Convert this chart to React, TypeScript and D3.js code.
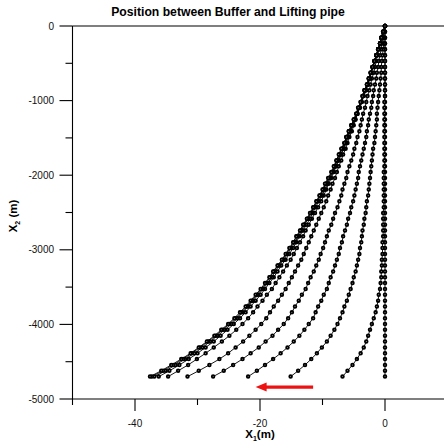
import React from "react";
import * as d3 from "d3";

// Node depths along the lifting pipe (m), shared by every snapshot
const X2 = [0,-78.3,-156.7,-235,-313.3,-391.7,-470,-548.3,-626.7,-705,-783.3,-861.7,-940,-1018.3,-1096.7,-1175,-1253.3,-1331.7,-1410,-1488.3,-1566.7,-1645,-1723.3,-1801.7,-1880,-1958.3,-2036.7,-2115,-2193.3,-2271.7,-2350,-2428.3,-2506.7,-2585,-2663.3,-2741.7,-2820,-2898.3,-2976.7,-3055,-3133.3,-3211.7,-3290,-3368.3,-3446.7,-3525,-3603.3,-3681.7,-3760,-3838.3,-3916.7,-3995,-4073.3,-4151.7,-4230,-4308.3,-4386.7,-4465,-4543.3,-4621.7,-4700];

// Horizontal position X1 (m) of each node, one array per time snapshot
const x1_t0 = [0,0,0,0,0,0,0,0,0,0,0, 0,0,0,0,0,0,0,0,0,0, 0,0,0,0,0,0,0,0,0,0, 0,0,0,0,0,0,0,0,0,0, 0,0,0,0,0, 0,0,0,0,0, 0,0,0,0,0, 0,0,0,0,0];
const x1_t1 = [0,0,0,0,0,0,0,0,0,0,0, 0,0,-0.1,-0.1,-0.1,-0.1,-0.1,-0.1,-0.1,-0.1, -0.1,-0.1,-0.1,-0.1,-0.2,-0.2,-0.2,-0.2,-0.2,-0.2, -0.2,-0.3,-0.3,-0.3,-0.3,-0.3,-0.4,-0.4,-0.4,-0.5, -0.5,-0.6,-0.6,-0.7,-0.8, -1.0,-1.1,-1.3,-1.5,-1.8, -2.1,-2.4,-2.7,-3.0,-3.4, -3.9,-4.5,-5.2,-6.0,-6.8];
const x1_t2 = [0,-0.1,-0.2,-0.2,-0.3,-0.4,-0.5,-0.6,-0.6,-0.7,-0.8, -0.9,-1.0,-1.1,-1.2,-1.3,-1.3,-1.4,-1.5,-1.6,-1.7, -1.9,-2.0,-2.1,-2.2,-2.3,-2.4,-2.5,-2.6,-2.7,-2.9, -3.0,-3.1,-3.3,-3.4,-3.6,-3.7,-3.8,-4.0,-4.1,-4.3, -4.5,-4.7,-5.0,-5.2,-5.5,-5.8,-6.1,-6.5,-6.8,-7.2, -7.6,-8.1,-8.7,-9.3,-10.1,-10.9,-11.8,-12.8,-13.9,-15.1];
const x1_t3 = [0,-0.2,-0.3,-0.5,-0.6,-0.8,-1.0,-1.1,-1.3,-1.4,-1.6, -1.8,-1.9,-2.1,-2.2,-2.4,-2.6,-2.7,-2.9,-3.0,-3.2, -3.4,-3.6,-3.8,-4.0,-4.2,-4.3,-4.5,-4.7,-4.9,-5.1, -5.4,-5.6,-5.9,-6.1,-6.4,-6.7,-6.9,-7.2,-7.4,-7.7, -8.0,-8.3,-8.7,-9.0,-9.3, -9.8,-10.2,-10.7,-11.1,-11.5, -12.2,-12.9,-13.7,-14.6,-15.6, -16.7,-17.9,-19.2,-20.5,-21.9];
const x1_t4 = [0,-0.2,-0.5,-0.7,-0.9,-1.2,-1.4,-1.6,-1.8,-2.1,-2.3, -2.5,-2.8,-3.0,-3.2,-3.5,-3.7,-3.9,-4.1,-4.4,-4.6, -4.9,-5.1,-5.4,-5.7,-6.0,-6.2,-6.5,-6.8,-7.0,-7.3, -7.6,-8.0,-8.3,-8.6,-9.0,-9.3,-9.6,-9.9,-10.3,-10.6, -11.0,-11.4,-11.9,-12.3,-12.7, -13.3,-13.8,-14.4,-14.9,-15.5, -16.2,-17.1,-18.0,-19.1,-20.2, -21.5,-22.8,-24.3,-25.8,-27.5];
const x1_t5 = [0,-0.3,-0.5,-0.8,-1.1,-1.4,-1.6,-1.9,-2.2,-2.4,-2.7, -3.0,-3.4,-3.7,-4.0,-4.4,-4.7,-5.0,-5.3,-5.7,-6.0, -6.3,-6.7,-7.0,-7.4,-7.7,-8.0,-8.4,-8.7,-9.1,-9.4, -9.8,-10.2,-10.6,-11.0,-11.4,-11.8,-12.2,-12.6,-13.0,-13.4, -13.9,-14.4,-14.9,-15.4,-15.9, -16.5,-17.1,-17.8,-18.4,-19.0, -19.8,-20.7,-21.7,-22.7,-23.9, -25.1,-26.5,-28.1,-29.8,-31.6];
const x1_t6 = [0,-0.3,-0.6,-0.8,-1.1,-1.4,-1.7,-2.0,-2.2,-2.5,-2.8, -3.1,-3.5,-3.8,-4.2,-4.5,-4.8,-5.2,-5.5,-5.9,-6.2, -6.6,-7.0,-7.4,-7.8,-8.2,-8.6,-9.0,-9.4,-9.8,-10.2, -10.7,-11.2,-11.7,-12.2,-12.7,-13.1,-13.6,-14.1,-14.6,-15.1, -15.7,-16.3,-16.9,-17.5,-18.1, -18.9,-19.6,-20.4,-21.1,-21.9, -22.8,-23.8,-24.9,-26.1,-27.4, -28.7,-30.1,-31.5,-33.1,-34.7];
const x1_t7 = [0,-0.3,-0.6,-0.8,-1.1,-1.3,-1.6,-1.9,-2.2,-2.5,-2.8, -3.2,-3.5,-3.8,-4.1,-4.4,-4.8,-5.2,-5.6,-6.0,-6.3, -6.7,-7.1,-7.5,-7.9,-8.3,-8.8,-9.2,-9.6,-10.1,-10.6, -11.1,-11.6,-12.0,-12.6,-13.1,-13.7,-14.2,-14.7,-15.3,-15.9, -16.6,-17.2,-17.8,-18.5,-19.2, -19.9,-20.7,-21.5,-22.3,-23.2, -24.2,-25.2,-26.3,-27.4,-28.7, -30.0,-31.4,-32.9,-34.5,-36.2];
const x1_t8 = [0,-0.3,-0.6,-0.8,-1.1,-1.4,-1.7,-2.0,-2.3,-2.6,-2.8, -3.2,-3.5,-3.8,-4.2,-4.5,-4.9,-5.3,-5.7,-6.1,-6.4, -6.9,-7.3,-7.7,-8.0,-8.4,-8.9,-9.4,-9.8,-10.3,-10.8, -11.3,-11.8,-12.3,-12.9,-13.3,-13.9,-14.4,-15.0,-15.6,-16.2, -16.9,-17.6,-18.1,-18.8,-19.5, -20.3,-21.1,-21.9,-22.8,-23.6, -24.6,-25.7,-26.8,-28.0,-29.2, -30.5,-32.0,-33.5,-35.1,-36.9];
const x1_t9 = [0,-0.3,-0.6,-0.8,-1.1,-1.4,-1.7,-2.0,-2.3,-2.6,-2.9, -3.3,-3.6,-3.9,-4.3,-4.6,-5.0,-5.4,-5.8,-6.2,-6.5, -6.9,-7.3,-7.7,-8.1,-8.5,-9.0,-9.5,-9.9,-10.4,-10.9, -11.4,-11.9,-12.4,-13.0,-13.5,-14.1,-14.6,-15.2,-15.8,-16.4, -17.1,-17.8,-18.4,-19.0,-19.7, -20.5,-21.3,-22.1,-23.0,-23.9, -24.9,-26.0,-27.1,-28.3,-29.6, -30.9,-32.3,-33.9,-35.5,-37.3];
const x1_t10 = [0,-0.3,-0.6,-0.8,-1.1,-1.4,-1.7,-2.0,-2.3,-2.6,-2.9, -3.3,-3.6,-3.9,-4.3,-4.6,-5.0,-5.4,-5.8,-6.2,-6.5, -7.0,-7.4,-7.8,-8.2,-8.6,-9.1,-9.6,-10.0,-10.5,-11.0, -11.5,-12.0,-12.5,-13.1,-13.6,-14.2,-14.7,-15.3,-15.9,-16.5, -17.2,-17.9,-18.5,-19.2,-19.9, -20.7,-21.5,-22.3,-23.2,-24.1, -25.1,-26.2,-27.3,-28.5,-29.8, -31.1,-32.6,-34.2,-35.8,-37.6];

const snapshots = [x1_t0, x1_t1, x1_t2, x1_t3, x1_t4, x1_t5, x1_t6, x1_t7, x1_t8, x1_t9, x1_t10];

// Axis ticks
const xMajorTicks = [-40, -20, 0];
const xMinorTicks = [-50, -30, -10];
const xTickLabels = ["-40", "-20", "0"];
const yMajorTicks = [0, -1000, -2000, -3000, -4000, -5000];
const yMinorTicks = [-500, -1500, -2500, -3500, -4500];
const yTickLabels = ["0", "-1000", "-2000", "-3000", "-4000", "-5000"];

// Direction of buffer motion (annotation arrow, data units)
const arrowFrom = [-11.5, -4840];
const arrowTo = [-20.7, -4840];

const FONT = "'Liberation Sans', Arial, Helvetica, sans-serif";

export default function App() {
  const x = d3.scaleLinear().domain([-50, 10]).range([72.5, 447.5]);
  const y = d3.scaleLinear().domain([0, -5000]).range([26, 399]);
  const line = d3
    .line<number>()
    .x((d) => x(d))
    .y((_, i) => y(X2[i]));

  const left = x(-50);
  const right = x(10);
  const top = y(0);
  const bottom = y(-5000);

  const ax1 = x(arrowFrom[0]);
  const ax2 = x(arrowTo[0]);
  const ay = y(arrowFrom[1]);

  return (
    <svg
      width={444}
      height={443}
      style={{ position: "absolute", left: 0, top: 0, background: "#fff" }}
      fontFamily={FONT}
    >
      <rect width={444} height={443} fill="#fff" />
      <text x={228} y={16} textAnchor="middle" fontSize={12.2} fontWeight="bold" fill="#000">
        Position between Buffer and Lifting pipe
      </text>

      {/* frame */}
      <g stroke="#000" strokeWidth={1.1} fill="none">
        <line x1={left} x2={right} y1={top} y2={top} />
        <line x1={left} x2={right} y1={bottom} y2={bottom} />
        <line x1={left} x2={left} y1={top} y2={bottom} />
        <line x1={right} x2={right} y1={top} y2={bottom} />
      </g>

      {/* y axis */}
      <g stroke="#000" strokeWidth={1.1}>
        {yMajorTicks.map((v) => (
          <line key={v} x1={left - 13} x2={left} y1={y(v)} y2={y(v)} />
        ))}
        {yMinorTicks.map((v) => (
          <line key={v} x1={left - 7} x2={left} y1={y(v)} y2={y(v)} />
        ))}
      </g>
      <g fontSize={10} fill="#111" textAnchor="end">
        {yMajorTicks.map((v, i) => (
          <text key={v} x={54} y={y(v) + 3.6}>
            {yTickLabels[i]}
          </text>
        ))}
      </g>

      {/* x axis */}
      <g stroke="#000" strokeWidth={1.1}>
        {xMajorTicks.map((v) => (
          <line key={v} x1={x(v)} x2={x(v)} y1={bottom} y2={bottom + 12} />
        ))}
        {xMinorTicks.map((v) => (
          <line key={v} x1={x(v)} x2={x(v)} y1={bottom} y2={bottom + 6} />
        ))}
      </g>
      <g fontSize={10} fill="#111" textAnchor="middle">
        {xMajorTicks.map((v, i) => (
          <text key={v} x={x(v)} y={427}>
            {xTickLabels[i]}
          </text>
        ))}
      </g>

      {/* axis titles */}
      <text x={260} y={438} textAnchor="middle" fontSize={11.5} fontWeight="bold" fill="#000">
        X<tspan fontSize={7} dy={3}>1</tspan>
        <tspan dy={-3}>(m)</tspan>
      </text>
      <text
        transform="translate(17,216) rotate(-90)"
        textAnchor="middle"
        fontSize={11.5}
        fontWeight="bold"
        fill="#000"
      >
        X<tspan fontSize={7} dy={3}>2</tspan>
        <tspan dy={-3}> (m)</tspan>
      </text>

      {/* pipe snapshots */}
      {snapshots.map((s, k) => (
        <g key={k}>
          <path d={line(s) ?? ""} fill="none" stroke="#000" strokeWidth={0.9} />
          {s.map((v, i) => (
            <circle
              key={i}
              cx={x(v)}
              cy={y(X2[i])}
              r={1.35}
              fill="#fff"
              stroke="#000"
              strokeWidth={1.8}
            />
          ))}
        </g>
      ))}

      {/* buffer motion arrow */}
      <line x1={ax1} x2={ax2 + 9} y1={ay} y2={ay} stroke="#ee1111" strokeWidth={3.2} />
      <path
        d={`M${ax2},${ay} L${ax2 + 11},${ay - 4.5} L${ax2 + 11},${ay + 4.5} Z`}
        fill="#ee1111"
      />
    </svg>
  );
}
